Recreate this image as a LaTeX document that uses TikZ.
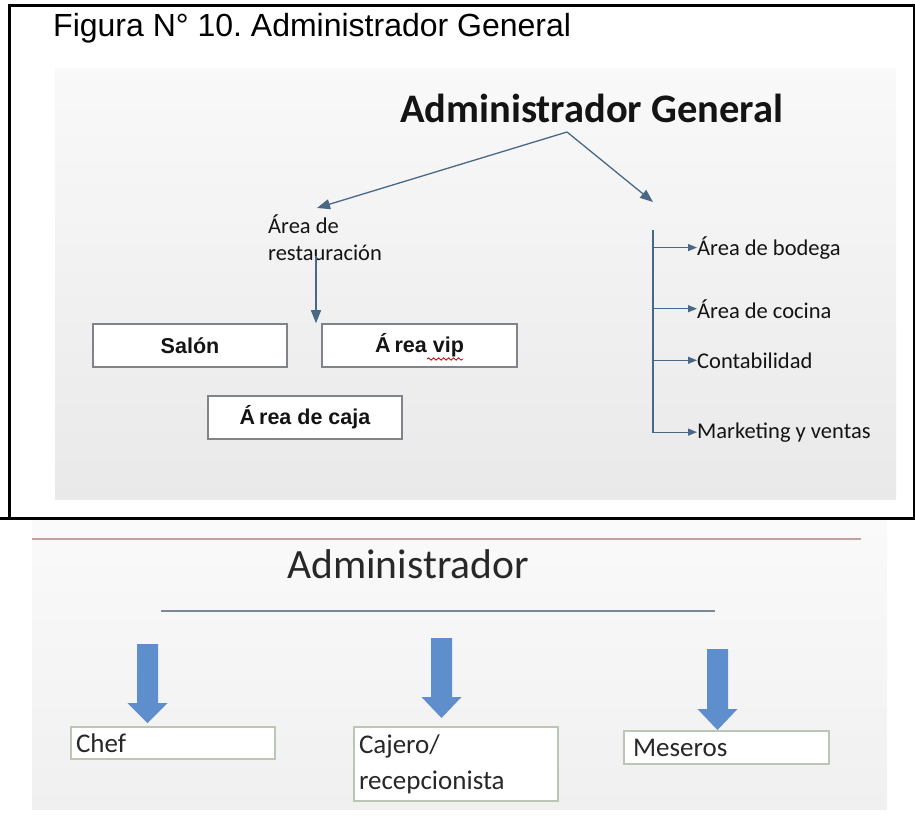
\documentclass[tikz,border=0pt]{standalone}
\usepackage{fontspec}
\setmainfont{Liberation Sans}
\newfontfamily\calibri{Carlito}
\usetikzlibrary{arrows.meta,decorations.pathmorphing,calc}

\definecolor{slate}{RGB}{72,104,134}
\definecolor{boxgray}{RGB}{128,132,138}
\definecolor{blockblue}{RGB}{94,142,204}
\definecolor{boxgreen}{RGB}{188,198,180}
\definecolor{pinkline}{RGB}{196,160,160}
\definecolor{blueline}{RGB}{120,138,156}
\definecolor{inktext}{RGB}{20,20,20}
\definecolor{softtext}{RGB}{40,40,40}
\definecolor{bgtop}{RGB}{249,249,249}
\definecolor{bgbot}{RGB}{233,233,233}
\definecolor{bgtoplow}{RGB}{250,250,250}
\definecolor{bgbotlow}{RGB}{240,240,240}

\newcommand\blkarrow[4]{%
  \fill[blockblue] (#1-10.5,#2) -- (#1+10.5,#2) -- (#1+10.5,#3) -- (#1+20,#3)
    -- (#1,#4) -- (#1-20,#3) -- (#1-10.5,#3) -- cycle;}

\begin{document}
\begin{tikzpicture}[x=1pt,y=-1pt,
  txt/.style={inner sep=0pt, text=inktext},
  topbox/.style={draw=boxgray, line width=1.6pt, fill=white, inner sep=0pt,
    text=inktext, font=\bfseries\fontsize{21.5}{26}\selectfont},
  botbox/.style={draw=boxgreen, line width=1.5pt, fill=white, inner ysep=0pt,
    align=left, text=softtext, font=\calibri\fontsize{27}{36}\selectfont},
  listtxt/.style={txt, anchor=base west, font=\calibri\fontsize{22.5}{27}\selectfont},
  slatearrow/.style={draw=slate, line width=1.3pt, -{Triangle[length=13pt,width=10pt]}},
  thinarrow/.style={draw=slate, line width=1.2pt, -{Triangle[length=9pt,width=7pt]}}
]
\useasboundingbox (0,0) rectangle (915,825);
\fill[white] (0,0) rectangle (915,825);

% upper screenshot background
\shade[top color=bgtop, bottom color=bgbot] (55,68) rectangle (896,499);
% lower screenshot background
\shade[top color=bgtoplow, bottom color=bgbotlow] (32,519) rectangle (887,809);

% caption
\node[txt, anchor=base west, text=black, font=\fontsize{32}{38}\selectfont] (caption) at (53,36)
  {Figura N° 10.\ Administrador General};

% upper chart
\node[txt, anchor=base west, font=\calibri\bfseries\fontsize{40.5}{46}\selectfont] (title) at (400,122) {Administrador General};
\coordinate (apex) at (567,132);
\coordinate (ltip) at (317,208);
\coordinate (rtip) at (653,202);
\draw[slatearrow] (apex) -- (ltip);
\draw[slatearrow] (apex) -- (rtip);

\node[txt, anchor=north west, align=left, font=\calibri\fontsize{22.5}{27}\selectfont] (rest) at (268,215) {Área de\\restauración};

\node[topbox, minimum width=194pt, minimum height=43pt] (salon) at (190,345.5) {Salón};
\node[topbox, minimum width=195pt, minimum height=43pt] (vip) at (419.5,345.5) {Á\kern4pt rea vip};
\node[topbox, minimum width=194pt, minimum height=43pt] (caja) at (305,417.5) {Á\kern4pt rea de caja};
\draw[red!75!black, line width=0.8pt, decorate, decoration={snake, amplitude=1.2pt, segment length=5pt}] (427,359) -- (463,359);

\coordinate (vtop) at (316,256);
\draw[slatearrow] (vtop) -- (vtop |- salon.north);

\node[listtxt] (b1) at (697,255) {Área de bodega};
\node[listtxt] (b2) at (697,318) {Área de cocina};
\node[listtxt] (b3) at (697,368) {Contabilidad};
\node[listtxt] (b4) at (697,438) {Marketing y ventas};
\coordinate (brtop) at (653,230);
\draw[thinarrow] (brtop) |- (b4.west);
\draw[thinarrow] (b1.west -| brtop) -- (b1.west);
\draw[thinarrow] (b2.west -| brtop) -- (b2.west);
\draw[thinarrow] (b3.west -| brtop) -- (b3.west);

% lower chart
\draw[pinkline, line width=2.5pt] (32,539) -- (861,539);
\node[txt, anchor=base west, text=softtext, font=\calibri\fontsize{41.6}{48}\selectfont] (admin) at (287,578) {Administrador};
\draw[blueline, line width=2pt] (161,611) -- (715,611);

\node[botbox, inner xsep=5pt, text width=194pt, minimum height=32pt] (chef) at (173,743) {Chef};
\node[botbox, inner xsep=5pt, text width=194pt, minimum height=74pt] (cajero) at (456,764) {Cajero/\\recepcionista};
\node[botbox, inner xsep=9pt, text width=187pt, minimum height=33pt] (meseros) at (726.5,747.5) {Meseros};

\blkarrow{147.5}{644}{703}{723}
\blkarrow{441.5}{638}{697}{718}
\blkarrow{717.5}{649}{709}{730}

% frame
\draw[line width=3pt] (915,5) -- (9,5) -- (9,518);
\draw[line width=3pt] (0,518) -- (915,518);
\draw[line width=2.5pt] (914,5) -- (914,518);
\end{tikzpicture}
\end{document}
